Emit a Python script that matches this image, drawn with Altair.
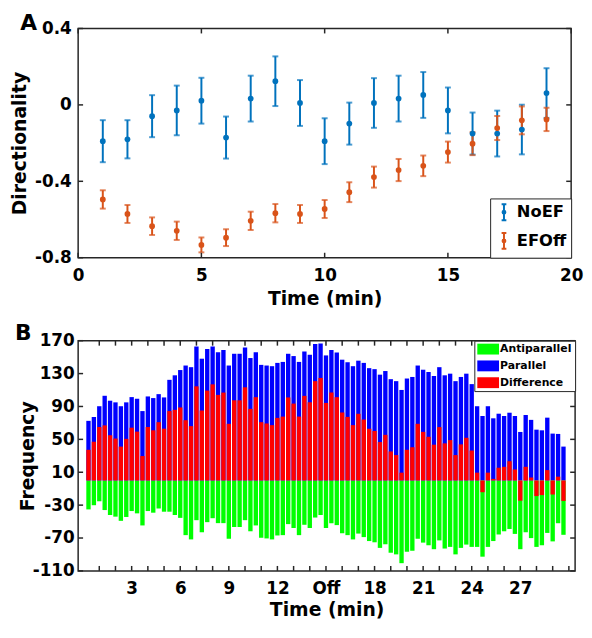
import altair as alt
import pandas as pd

FONT = "DejaVu Sans"
INK = "#262626"
BLUE = "#0072BD"
ORANGE = "#D95319"

# ---------------- Panel A data ----------------
a_minutes = list(range(1, 20))
noef_mean = [-0.19, -0.18, -0.059, -0.029, 0.022, -0.171, 0.033, 0.124, 0.010, -0.19,
             -0.098, 0.010, 0.033, 0.052, -0.029, -0.150, -0.150, -0.129, 0.062]
noef_err = [0.11, 0.10, 0.11, 0.13, 0.12, 0.11, 0.12, 0.13, 0.12, 0.12,
            0.11, 0.13, 0.12, 0.12, 0.12, 0.11, 0.12, 0.13, 0.13]
efoff_mean = [-0.495, -0.571, -0.635, -0.659, -0.733, -0.695, -0.607, -0.567, -0.571, -0.545,
              -0.457, -0.378, -0.341, -0.319, -0.247, -0.203, -0.121, -0.081, -0.076]
efoff_err = [0.048, 0.047, 0.046, 0.048, 0.039, 0.044, 0.048, 0.048, 0.047, 0.047,
             0.052, 0.055, 0.058, 0.054, 0.055, 0.060, 0.063, 0.073, 0.061]
a_series = ["NoEF", "EFOff"]
a_xticks = [0, 5, 10, 15, 20]
a_yticks = [-0.8, -0.4, 0, 0.4]

# ---------------- Panel B data ----------------
b_time = [k / 3 for k in range(1, 90)]   # one bar every 20 s
parallel = [72.5, 77.2, 90.3, 103.0, 97.0, 95.0, 90.3, 95.0, 101.4, 99.4,
            84.4, 102.2, 100.2, 105.0, 101.0, 122.4, 127.9, 134.3, 139.8, 137.8,
            162.8, 148.1, 160.0, 162.8, 156.0, 158.8, 139.8, 154.1, 154.1, 161.6,
            148.9, 156.0, 140.6, 139.8, 139.0, 143.0, 144.2, 154.1, 151.3, 144.2,
            156.8, 152.9, 165.9, 166.7, 152.1, 158.8, 155.6, 146.9, 143.8, 139.0,
            145.7, 143.0, 136.6, 135.4, 128.7, 133.1, 123.2, 120.8, 110.1, 124.0,
            125.9, 139.8, 134.7, 131.9, 127.1, 137.8, 127.9, 129.9, 120.8, 125.9,
            129.9, 117.2, 90.3, 78.4, 90.3, 75.6, 81.2, 78.4, 82.4, 78.4,
            59.0, 79.6, 73.7, 61.8, 61.0, 76.4, 57.0, 56.6, 41.2]
antiparallel = [-35.2, -30.1, -25.3, -36.0, -42.0, -44.0, -49.1, -44.4, -37.2, -40.0,
                -54.7, -37.2, -39.2, -34.1, -38.0, -38.0, -42.0, -45.5, -66.5, -71.7,
                -48.3, -63.0, -50.7, -45.9, -51.9, -51.9, -70.9, -56.6, -56.6, -48.3,
                -61.8, -54.7, -69.7, -70.5, -71.7, -66.9, -66.5, -53.1, -57.8, -66.5,
                -53.9, -57.8, -45.1, -42.0, -57.8, -51.9, -54.3, -64.2, -66.5, -71.7,
                -64.6, -68.9, -73.7, -75.2, -82.0, -77.6, -87.9, -89.9, -100.6, -86.7,
                -85.5, -70.9, -75.6, -78.8, -83.6, -72.9, -82.8, -80.8, -89.9, -82.0,
                -78.0, -80.8, -80.8, -92.7, -80.8, -73.7, -65.7, -61.8, -59.0, -65.0,
                -83.6, -63.0, -70.1, -80.8, -78.8, -63.8, -74.1, -52.0, -66.1]
b_series = ["Antiparallel", "Parallel", "Difference"]
b_colors = ["#00FF00", "#0000FF", "#FF0000"]
b_yticks = [-110, -70, -30, 10, 50, 90, 130, 170]
b_xlabel_values = [3, 6, 9, 12, 15, 18, 21, 24, 27]
b_xlabels = ["3", "6", "9", "12", "Off", "18", "21", "24", "27"]
b_xticks = list(range(1, 31))

# ---------------- sizes ----------------
WA, HA = 499, 232
WB, HB = 503, 233
TL = 5  # inner tick length

minus_fix = "replace(datum.label, '\u2212', '-')"

# ---------------- Panel A ----------------
dfA = pd.DataFrame({
    "t": a_minutes * 2,
    "mean": noef_mean + efoff_mean,
    "err": noef_err + efoff_err,
    "series": [a_series[0]] * len(a_minutes) + [a_series[1]] * len(a_minutes),
})
xA_scale = alt.Scale(domain=[0, 20], nice=False, zero=False)
yA_scale = alt.Scale(domain=[-0.8, 0.4], nice=False, zero=False)
colA_scale = alt.Scale(domain=a_series, range=[BLUE, ORANGE])

ERRPATH = ("M0,-1V1M-0.3,-1H0.3M-0.3,1H0.3"
           "M0.18,0A0.18,0.18,0,1,1,-0.18,0A0.18,0.18,0,1,1,0.18,0Z")

xA_axis = alt.Axis(values=a_xticks, format="d", title="Time (min)", labelFlush=False,
                   labelPadding=10, titlePadding=6)
yA_axis = alt.Axis(values=a_yticks, title="Directionality",
                   labelExpr="datum.value == 0 ? '0' : replace(format(datum.value, '.1f'), '\u2212', '-')",
                   labelPadding=7, titlePadding=5)


def XA(f):
    return alt.X(f, scale=xA_scale, axis=xA_axis)


def YA(f):
    return alt.Y(f, scale=yA_scale, axis=yA_axis)


baseA = alt.Chart(dfA).transform_calculate(
    lo="datum.mean - datum.err", hi="datum.mean + datum.err")

errA = baseA.mark_rule(strokeWidth=2).encode(
    x=XA("t:Q"), y=YA("lo:Q"), y2="hi:Q",
    color=alt.Color("series:N", scale=colA_scale, legend=alt.Legend(
        title=None, orient="bottom-right", offset=0, padding=5,
        strokeColor=INK, fillColor="white", cornerRadius=0,
        symbolType=ERRPATH, symbolSize=256, symbolStrokeWidth=2,
        labelFont=FONT, labelFontSize=16.5, labelFontWeight="bold",
        labelColor="black", labelOffset=4, rowPadding=5)),
)
colA_nolegend = alt.Color("series:N", scale=colA_scale, legend=None)
capLo = baseA.mark_tick(orient="horizontal", size=6, thickness=2).encode(
    x=XA("t:Q"), y=YA("lo:Q"), color=colA_nolegend)
capHi = baseA.mark_tick(orient="horizontal", size=6, thickness=2).encode(
    x=XA("t:Q"), y=YA("hi:Q"), color=colA_nolegend)
ptsA = baseA.mark_circle(size=34, opacity=1).encode(
    x=XA("t:Q"), y=YA("mean:Q"), color=colA_nolegend)

tAx = alt.Chart(pd.DataFrame({"v": a_xticks}))
tAy = alt.Chart(pd.DataFrame({"v": a_yticks}))
tickA = [
    tAx.mark_rule(color=INK, strokeWidth=1.5).encode(
        x=XA("v:Q"), y=alt.value(HA - TL), y2=alt.value(HA)),
    tAx.mark_rule(color=INK, strokeWidth=1.5).encode(
        x=XA("v:Q"), y=alt.value(0), y2=alt.value(TL)),
    tAy.mark_rule(color=INK, strokeWidth=1.5).encode(
        y=YA("v:Q"), x=alt.value(0), x2=alt.value(TL)),
    tAy.mark_rule(color=INK, strokeWidth=1.5).encode(
        y=YA("v:Q"), x=alt.value(WA - TL), x2=alt.value(WA)),
]
labA = alt.Chart(pd.DataFrame({"s": ["A"]})).mark_text(
    font=FONT, fontSize=22, fontWeight="bold", align="left", baseline="alphabetic",
    color="black").encode(text="s:N", x=alt.value(-58.5), y=alt.value(2))

panelA = alt.layer(errA, capLo, capHi, ptsA, *tickA, labA).properties(width=WA, height=HA)

# ---------------- Panel B ----------------
dfB = pd.DataFrame({"time": b_time, "Parallel": parallel, "Antiparallel": antiparallel})
xB_scale = alt.Scale(domain=[0, 30.08], nice=False, zero=False)
yB_scale = alt.Scale(domain=[-110, 170], nice=False, zero=False)

xlab_expr = "datum.label"
for v, l in reversed(list(zip(b_xlabel_values, b_xlabels))):
    xlab_expr = f"datum.value == {v} ? '{l}' : ({xlab_expr})"

xB_axis = alt.Axis(values=b_xlabel_values, labelExpr=xlab_expr, title="Time (min)",
                   labelFlush=False, labelPadding=10, titlePadding=4)
yB_axis = alt.Axis(values=b_yticks, labelExpr=minus_fix, title="Frequency",
                   labelPadding=4, titlePadding=-5)


def XB(f):
    return alt.X(f, scale=xB_scale, axis=xB_axis)


def YB(f, **kw):
    return alt.Y(f, scale=yB_scale, axis=yB_axis, **kw)


bars = alt.Chart(dfB).transform_calculate(
    Difference="datum.Parallel + datum.Antiparallel"
).transform_fold(b_series, as_=["series", "value"]).mark_bar(size=4.4, orient="vertical").encode(
    x=XB("time:Q"),
    y=YB("value:Q", stack=None),
    color=alt.Color("series:N", scale=alt.Scale(domain=b_series, range=b_colors),
                    legend=alt.Legend(
                        title=None, orient="top-right", offset=0, padding=3,
                        strokeColor=INK, fillColor="white", cornerRadius=0,
                        symbolType="M-1,-1H3V1H-1Z", symbolSize=121, symbolStrokeWidth=0,
                        labelFont=FONT, labelFontSize=11, labelFontWeight="bold",
                        labelColor="black", labelOffset=12, rowPadding=5)),
)

tBx = alt.Chart(pd.DataFrame({"v": b_xticks}))
tBy = alt.Chart(pd.DataFrame({"v": b_yticks}))
tickB = [
    tBx.mark_rule(color=INK, strokeWidth=1.5).encode(
        x=XB("v:Q"), y=alt.value(HB - TL), y2=alt.value(HB)),
    tBx.mark_rule(color=INK, strokeWidth=1.5).encode(
        x=XB("v:Q"), y=alt.value(0), y2=alt.value(TL)),
    tBy.mark_rule(color=INK, strokeWidth=1.5).encode(
        y=YB("v:Q"), x=alt.value(0), x2=alt.value(TL)),
    tBy.mark_rule(color=INK, strokeWidth=1.5).encode(
        y=YB("v:Q"), x=alt.value(WB - TL), x2=alt.value(WB)),
]
labB = alt.Chart(pd.DataFrame({"s": ["B"]})).mark_text(
    font=FONT, fontSize=22, fontWeight="bold", align="left", baseline="alphabetic",
    color="black").encode(text="s:N", x=alt.value(-64), y=alt.value(-1))

panelB = alt.layer(bars, *tickB, labB).properties(width=WB, height=HB)

chart = alt.vconcat(panelA, panelB, spacing=12).resolve_scale(
    color="independent", x="independent", y="independent"
).properties(
    padding={"left": 2, "top": 0, "right": 0, "bottom": 0}
).configure(font=FONT).configure_view(
    stroke=INK, strokeWidth=1.5
).configure_axis(
    labelFont=FONT, labelFontSize=17, labelFontWeight="bold", labelColor="black",
    titleFont=FONT, titleFontSize=19, titleFontWeight="bold", titleColor="black",
    domain=False, ticks=False, tickSize=0, grid=False
)

chart.save("out.html", embed_options={"renderer": "svg", "actions": False})
